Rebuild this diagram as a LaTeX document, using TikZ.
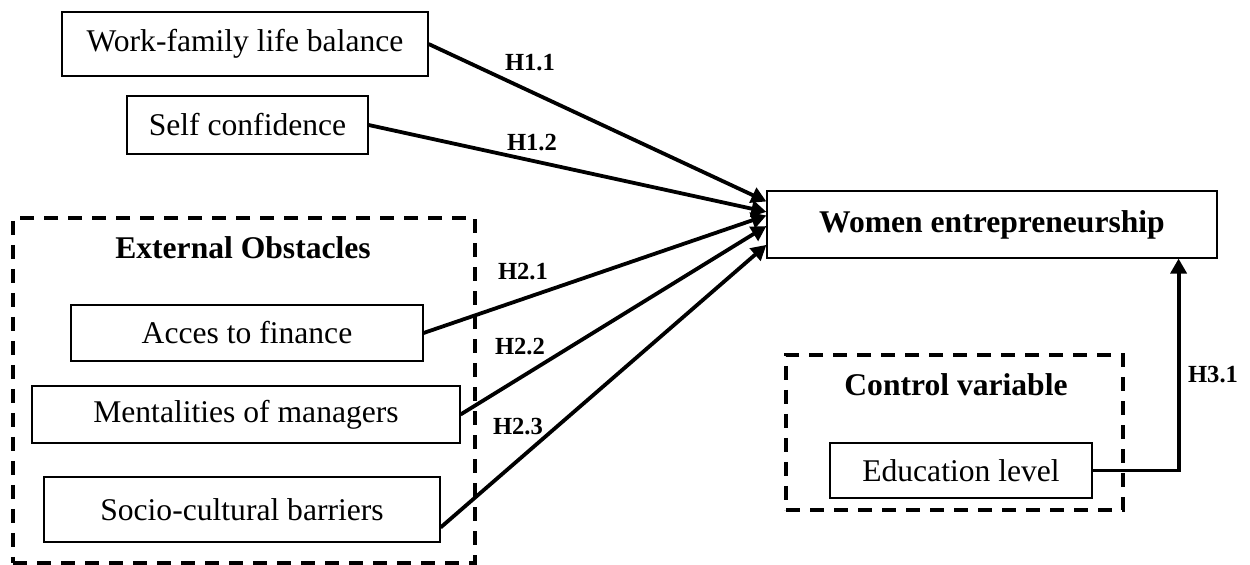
\documentclass[tikz,border=0pt]{standalone}
\usepackage{fontspec}
\setmainfont{Liberation Serif}
\usetikzlibrary{arrows.meta}

\begin{document}
\begin{tikzpicture}[
  x=0.5pt,y=-0.5pt,
  every node/.style={inner sep=0pt,font=\fontsize{15.8}{19}\selectfont},
  varbox/.style={rectangle,draw,line width=0.6pt},
  groupbox/.style={rectangle,draw,line width=2pt,dash pattern=on 7pt off 5pt},
  grouptitle/.style={font=\fontsize{15.8}{19}\selectfont\bfseries},
  hyp/.style={font=\fontsize{12.3}{15}\selectfont\bfseries},
  hyparrow/.style={draw,line width=1.9pt,-{Triangle[length=7.5pt,width=8pt]}}
]
  \useasboundingbox (0,0) rectangle (1250,565);

  % groups
  \node[groupbox,minimum width=231pt,minimum height=172.5pt] (external) at (244,390.5) {};
  \node[groupbox,minimum width=168.5pt,minimum height=77.5pt] (control) at (954.5,432.5) {};
  \node[grouptitle] (externaltitle) at (243,248) {External Obstacles};
  \node[grouptitle] (controltitle) at (956,385) {Control variable};

  % variables
  \node[varbox,minimum width=183pt,minimum height=32pt] (work) at (245,44) {Work-family life balance};
  \node[varbox,minimum width=120.5pt,minimum height=29pt] (self) at (247.5,125) {Self confidence};
  \node[varbox,minimum width=176pt,minimum height=28pt] (finance) at (247,333) {Acces to finance};
  \node[varbox,minimum width=214pt,minimum height=28.5pt] (mental) at (246,414.5) {Mentalities of managers};
  \node[varbox,minimum width=198pt,minimum height=32.5pt] (socio) at (242,509.5) {Socio-cultural barriers};
  \node[varbox,minimum width=131pt,minimum height=27.5pt] (edu) at (961,470.5) {Education level};
  \node[varbox,minimum width=225pt,minimum height=33.5pt,font=\fontsize{15.8}{19}\selectfont\bfseries] (women) at (992,224.5) {Women entrepreneurship};

  % hypotheses
  \draw[hyparrow] (work.east) -- ([yshift=11.5pt]women.west);
  \draw[hyparrow] (self.east) -- ([yshift=6.3pt]women.west);
  \draw[hyparrow] (finance.east) -- ([yshift=4.5pt]women.west);
  \draw[hyparrow] (mental.east) -- ([yshift=-0.8pt]women.west);
  \draw[hyparrow] ([yshift=-9pt]socio.east) -- ([yshift=-10.2pt]women.west);
  \draw[hyparrow] (edu.east) -| ([xshift=-19.5pt]women.south east);

  \node[hyp] (h11) at (530,63) {H1.1};
  \node[hyp] (h12) at (532,143) {H1.2};
  \node[hyp] (h21) at (523,272) {H2.1};
  \node[hyp] (h22) at (520,347) {H2.2};
  \node[hyp] (h23) at (518,427) {H2.3};
  \node[hyp] (h31) at (1213,375) {H3.1};
\end{tikzpicture}
\end{document}
